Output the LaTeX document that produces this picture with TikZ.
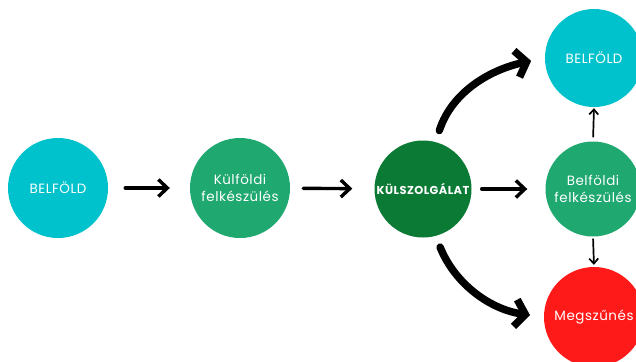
\documentclass[tikz,border=0pt]{standalone}
\usepackage{fontspec}
\setmainfont{Poppins}[LetterSpace=4]
\usepackage{tikz}
\usetikzlibrary{arrows.meta,positioning}
\definecolor{turkiz}{RGB}{0,194,204}
\definecolor{vilzold}{RGB}{31,168,112}
\definecolor{sotzold}{RGB}{11,122,52}
\definecolor{piros}{RGB}{255,26,26}

\begin{document}
\begin{tikzpicture}[x=1bp, y=-1bp,
    circ/.style={circle, minimum size=#1, inner sep=0pt, align=center, text=white, font=\fontsize{13.5}{17}\selectfont},
    arrow/.style={-{Straight Barb[length=9bp, width=17bp]}, line width=3.4bp, line cap=round},
    bigarrow/.style={-{Straight Barb[length=10bp, width=27bp]}, line width=7.5bp, line cap=round},
    smallarrow/.style={-{Straight Barb[length=5bp, width=9bp]}, line width=1.7bp}
]
\useasboundingbox[fill=white] (0,0) rectangle (636,361);

% Circles
\node[circ=100bp, fill=turkiz] (belfold1) at (58,188) {BELFÖLD};
\node[circ=100bp, fill=vilzold] (kulfelk) at (240,188) {Külföldi\\felkészülés};
\node[circ=97bp, fill=sotzold, font=\fontsize{11.5}{14}\selectfont\bfseries] (kulszolg) at (423,189) {KÜLSZOLGÁLAT};
\node[circ=95bp, fill=vilzold] (belfelk) at (593,189) {Belföldi\\felkészülés};
\node[circ=98bp, fill=turkiz] (belfold2) at (594,58) {BELFÖLD};
\node[circ=100bp, fill=piros] (megszunes) at (594,317) {Megszűnés};

% Arrows
\draw[arrow, shorten <=17bp, shorten >=20bp] (belfold1) -- (kulfelk);
\draw[arrow, shorten <=13bp, shorten >=22bp] (kulfelk) -- (kulszolg);
\draw[arrow, shorten <=10bp, shorten >=18bp] (kulszolg) -- (belfelk);
\draw[bigarrow, shorten <=12bp, shorten >=14bp] (kulszolg.75) to[out=72, in=192] (belfold2.west);
\draw[bigarrow, shorten <=12bp, shorten >=14bp] (kulszolg.-75) to[out=-68, in=172] (megszunes.west);
\draw[smallarrow, shorten <=4bp, shorten >=1bp] (belfelk.north) -- (belfold2.south);
\draw[smallarrow, shorten <=2bp, shorten >=2bp] (belfelk.south) -- (megszunes.north);

\end{tikzpicture}
\end{document}
